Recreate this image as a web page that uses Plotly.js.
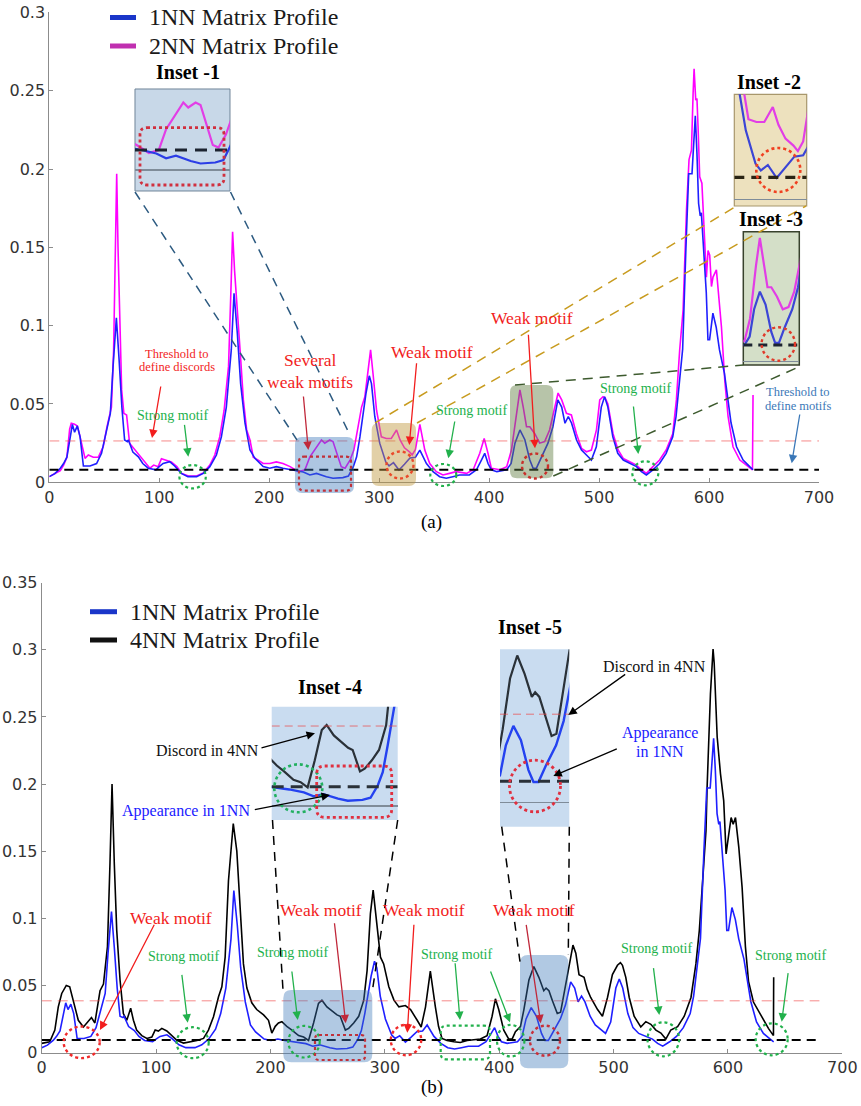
<!DOCTYPE html>
<html><head><meta charset="utf-8">
<script src="https://cdn.plot.ly/plotly-3.0.1.min.js"></script>
<style>html,body{margin:0;padding:0;background:#fff}#chart{width:861px;height:1106px}</style>
</head><body><div id="chart"></div>
<script>
// ---------------- DATA ----------------
const t1nn = [0,5,10,13,16,19,21,23,25.5,28,30,31,37,43,47.5,52,55.5,58,61,63.5,66,68.5,71,72,74,76,81,85,90,97,100,103.5,109.5,114,120,126,134,140,146,152,156.5,161,165.5,168,171,174,178,182.5,187,194.5,200.5,206.5,212.5,222,231,237,243,252,258,267,272,276.5,279.5,282.5,285.5,288,291,293,296,300.5,306,309,313,318,323,328,333,337,343,349,355,361,367,373,382,388.5,393,396,399,402,407,416,420,423.5,428,432.5,437,440,443,447.5,453.5,458,462.5,466,469,472,475,479.5,484,488.5,493,497.5,502,505,508,512.5,517,522,528,534,538.5,543,549,555,561,567,570,573,576,579,581.5,584.5,587.5,589,590.5,592,593,594.5,597.5,599,600.5,603.5,606.5,609.5,614,616,620,625,631,637,640];
const mp1nn = [0.0036,0.0055,0.009,0.012,0.016,0.028,0.037,0.032,0.036,0.029,0.016,0.0104,0.0104,0.012,0.0185,0.0334,0.044,0.074,0.105,0.078,0.048,0.027,0.026,0.027,0.0227,0.0193,0.0163,0.012,0.009,0.008,0.010,0.012,0.0132,0.0104,0.0057,0.0036,0.0036,0.0057,0.010,0.0174,0.029,0.048,0.0845,0.1207,0.095,0.063,0.0377,0.0206,0.0153,0.010,0.009,0.010,0.009,0.008,0.0066,0.0047,0.0057,0.0036,0.0026,0.003,0.004,0.010,0.0163,0.029,0.044,0.0568,0.068,0.063,0.042,0.025,0.013,0.0105,0.0125,0.0078,0.0115,0.0155,0.016,0.0205,0.012,0.0068,0.0036,0.0026,0.0036,0.0047,0.0047,0.008,0.0142,0.0185,0.012,0.008,0.0068,0.008,0.012,0.025,0.0334,0.0272,0.0142,0.009,0.009,0.0163,0.025,0.0355,0.0526,0.048,0.0377,0.042,0.0377,0.027,0.0206,0.0174,0.0142,0.0227,0.048,0.0547,0.048,0.029,0.0185,0.0142,0.012,0.010,0.0068,0.0047,0.008,0.012,0.0185,0.029,0.042,0.063,0.085,0.15,0.197,0.197,0.234,0.21,0.178,0.170,0.172,0.155,0.121,0.091,0.091,0.108,0.099,0.0845,0.0696,0.059,0.038,0.0227,0.0142,0.010,0.008];

const t2nn = [0,5,10,13,16,18.5,20,23,25.5,28,30.5,32.5,35.5,40,44.5,49,52.5,56.5,58.5,60,61.3,62.5,63.8,65.8,67.8,70.3,73,78,82.5,87,91.5,95,99,102,106.5,111,116,120.5,126.5,134,140,146,150.5,155,159,163,165.5,166.7,168.5,171,173.5,176.5,179.5,182.5,185.5,190,194.5,200.5,206.5,212.5,219,226.5,232.5,237,243,247.5,250.5,255,258,262.5,265.5,269,273.5,277,281,284,287,290,292.2,294.6,297.6,302,306.5,311,315.8,319,323,327.5,330,333,337,341.5,346,352,358,364,370,379.5,385.5,391.5,395.5,399,402,410,416,420.3,425,428,431,434,437,441.5,446,450.5,455,459.7,462.7,466,470.3,474.8,479.4,484,488.5,493,497.6,500.6,503.6,505.5,508,512.7,517.3,522,528,534,538.5,543,549,555,561,567,570.3,573.3,576.4,579.5,581.8,584,585.5,586.4,587.9,589,590,591.5,593.5,595.5,597.6,599.1,600.6,602.2,603.6,606.7,608.8,611.3,614.3,617.3,621.8,628,634,639.5,640];
const mp2nn = [0.0036,0.0055,0.0075,0.011,0.016,0.034,0.0377,0.037,0.036,0.029,0.02,0.0153,0.0174,0.016,0.016,0.0227,0.0355,0.048,0.0845,0.15,0.197,0.15,0.106,0.059,0.044,0.043,0.025,0.0206,0.0174,0.0132,0.009,0.011,0.010,0.015,0.0138,0.013,0.010,0.0057,0.004,0.004,0.006,0.011,0.0174,0.029,0.046,0.074,0.13,0.16,0.135,0.106,0.0845,0.0526,0.0334,0.027,0.016,0.0142,0.012,0.012,0.013,0.012,0.010,0.0068,0.008,0.0163,0.0227,0.027,0.025,0.027,0.026,0.0163,0.010,0.009,0.0142,0.0206,0.0355,0.048,0.0547,0.074,0.0845,0.068,0.046,0.029,0.028,0.028,0.0334,0.027,0.022,0.0195,0.0175,0.021,0.037,0.0206,0.012,0.0068,0.0047,0.0057,0.0068,0.0057,0.008,0.0185,0.028,0.0185,0.009,0.008,0.010,0.0206,0.046,0.059,0.048,0.0355,0.0355,0.031,0.025,0.026,0.0334,0.048,0.057,0.0526,0.044,0.043,0.031,0.0217,0.0195,0.0206,0.0334,0.0526,0.0547,0.054,0.05,0.031,0.0206,0.0153,0.013,0.011,0.008,0.0057,0.010,0.0142,0.0206,0.031,0.0526,0.0845,0.11,0.174,0.206,0.212,0.248,0.264,0.244,0.245,0.227,0.195,0.191,0.163,0.131,0.148,0.145,0.125,0.131,0.1356,0.1207,0.099,0.065,0.042,0.0227,0.0142,0.011,0.008,0.0557];

const t4nn = [0,7,11.5,14.5,17.5,21.5,24.5,27.5,32,36.5,41,43.5,46.5,51,54,57.5,59.7,61.5,63.5,65.6,68.5,71.4,74.4,77.8,80.2,83,87.5,92,96.3,99.2,102,105,109.4,113.8,118.2,124,130,135.7,141.5,145.8,150.2,154.6,157.5,160.4,163.3,166.3,167.5,170.6,173.5,176.4,179.4,183.7,188,194,198.3,201.2,204.2,207,210,214.3,218.8,224.6,229,233.3,237.7,242,245,249.4,253.8,258.2,261,265.5,268.4,272.8,277.2,281.6,284.5,287.4,289.8,292.7,296.2,299,303.5,308,312.3,318,322.5,328.3,331.8,335.6,339.8,344.2,347,350,354.4,360.3,366,372,378,383.6,389.4,393.8,396.7,399.6,404,408.4,411.3,414.2,418.6,421.6,426,430.3,434.7,439,441,443.5,446.4,450.8,453.7,458,462.5,464.5,467,469.8,474.2,477,480,486,490.3,494.7,499,503.4,506,507.8,510.7,513.7,518,523.8,528.2,532.6,537,541.4,545.7,550,556,561.8,567.7,572,575,577.9,580.8,581.8,584.7,587,588,590.6,593.5,596.3,598.4,600.8,602.8,604.6,606.6,609.5,612.4,615.3,618,622.3,626.7,631,635.4,639.8,640];
const mp4nn = [0.0068,0.008,0.0167,0.034,0.044,0.050,0.049,0.039,0.024,0.019,0.023,0.026,0.022,0.046,0.051,0.079,0.141,0.200,0.14,0.091,0.054,0.029,0.024,0.033,0.024,0.0167,0.0126,0.0105,0.0115,0.0167,0.016,0.018,0.016,0.0126,0.009,0.007,0.008,0.009,0.0105,0.0167,0.0266,0.0415,0.049,0.071,0.128,0.16,0.1706,0.15,0.103,0.066,0.048,0.037,0.032,0.028,0.024,0.0145,0.0195,0.022,0.023,0.0195,0.0167,0.0126,0.0115,0.009,0.022,0.0366,0.039,0.034,0.031,0.028,0.027,0.0167,0.018,0.022,0.027,0.039,0.061,0.1035,0.121,0.1,0.071,0.066,0.049,0.039,0.034,0.035,0.032,0.024,0.019,0.034,0.0606,0.034,0.0193,0.0105,0.009,0.008,0.0075,0.009,0.0095,0.010,0.0126,0.027,0.040,0.032,0.0167,0.010,0.010,0.0155,0.0193,0.032,0.054,0.064,0.056,0.046,0.048,0.046,0.039,0.029,0.030,0.049,0.071,0.080,0.074,0.058,0.056,0.047,0.041,0.032,0.027,0.041,0.058,0.065,0.067,0.065,0.056,0.041,0.027,0.019,0.023,0.021,0.0167,0.0145,0.010,0.0167,0.0193,0.027,0.041,0.066,0.091,0.128,0.165,0.1976,0.267,0.3005,0.29,0.235,0.2076,0.1877,0.148,0.163,0.175,0.17,0.175,0.153,0.123,0.0787,0.053,0.0376,0.031,0.0243,0.018,0.0126,0.056];

const xTicksTop = [0,100,200,300,400,500,600,700];
const motifThrTop = 0.008, discordThrTop = 0.0264;
const motifThrBot = 0.0093, discordThrBot = 0.0385;

// ---------------- HELPERS ----------------
const W = 861, H = 1106;
const X = v => v / W, Y = v => 1 - v / H;
function rrect(x0, y0, x1, y1, r) {
  const a = v => (v / W).toFixed(5), b = v => (1 - v / H).toFixed(5);
  return `M${a(x0+r)},${b(y0)} L${a(x1-r)},${b(y0)} Q${a(x1)},${b(y0)} ${a(x1)},${b(y0+r)} ` +
         `L${a(x1)},${b(y1-r)} Q${a(x1)},${b(y1)} ${a(x1-r)},${b(y1)} L${a(x0+r)},${b(y1)} ` +
         `Q${a(x0)},${b(y1)} ${a(x0)},${b(y1-r)} L${a(x0)},${b(y0+r)} Q${a(x0)},${b(y0)} ${a(x0+r)},${b(y0)} Z`;
}
const shapes = [];
const ann = [];
function rect(x0,y0,x1,y1,r,fill,lc,lw,dash,layer){
  shapes.push({type:'path', xref:'paper', yref:'paper', path:rrect(x0,y0,x1,y1,r),
    fillcolor: fill || 'rgba(0,0,0,0)', line:{color: lc || 'rgba(0,0,0,0)', width: lw || 0, dash: dash || 'solid'}, layer: layer || 'above'});
}
function circ(cx,cy,rx,ry,color,lw){
  shapes.push({type:'circle', xref:'paper', yref:'paper', x0:X(cx-rx), x1:X(cx+rx), y0:Y(cy+ry), y1:Y(cy-ry),
    line:{color:color, width:lw||2.2, dash:'dot'}, layer:'above'});
}
function seg(x0,y0,x1,y1,color,lw,dash){
  shapes.push({type:'line', xref:'paper', yref:'paper', x0:X(x0), y0:Y(y0), x1:X(x1), y1:Y(y1),
    line:{color:color, width:lw, dash:dash||'solid'}, layer:'above'});
}
function hline(xr, yr, x0, x1, yv, color, lw, dash){
  shapes.push({type:'line', xref:xr, yref:yr, x0:x0, x1:x1, y0:yv, y1:yv, line:{color:color, width:lw, dash:dash}, layer:'above'});
}
function txt(s, cx, cy, size, color, anchor){
  ann.push({text:s, x:X(cx), y:Y(cy), xref:'paper', yref:'paper', showarrow:false, xanchor:anchor||'center', yanchor:'middle',
    font:{family:'Liberation Serif, Times New Roman, serif', size:size, color:color}});
}
function arrow(tx, ty, hx, hy, color){
  ann.push({text:'', x:X(hx), y:Y(hy), xref:'paper', yref:'paper', ax:tx-hx, ay:ty-hy, axref:'pixel', ayref:'pixel',
    showarrow:true, arrowhead:2, arrowsize:1.3, arrowwidth:1.3, arrowcolor:color, standoff:0, startstandoff:0});
}

// ---------------- AXES ----------------
const mainAx = {showgrid:false, zeroline:false, showline:true, linecolor:'#8c8c8c', linewidth:1,
  ticks:'inside', ticklen:4, tickcolor:'#8c8c8c', tickfont:{family:'DejaVu Sans', size:16, color:'#333'}, fixedrange:true};
function insetAx(dom, rng, anchor, zl){
  return {domain:dom, range:rng, anchor:anchor, showgrid:false, showline:false, ticks:'', showticklabels:false,
    zeroline:!!zl, zerolinecolor:'#7f8c99', zerolinewidth:1.2, fixedrange:true};
}
const layout = {
  width:W, height:H, margin:{l:0,r:0,t:0,b:0}, paper_bgcolor:'#fff', plot_bgcolor:'rgba(0,0,0,0)', showlegend:false,
  xaxis: Object.assign({}, mainAx, {domain:[49.3/W, 819/W], range:[0,700], tickvals:xTicksTop, anchor:'y'}),
  yaxis: Object.assign({}, mainAx, {domain:[Y(482.3), Y(12.4)], range:[0,0.3], dtick:0.05, tick0:0, anchor:'x'}),
  xaxis2: Object.assign({}, mainAx, {domain:[41.7/W, 842.3/W], range:[0,700], tickvals:xTicksTop, anchor:'y2'}),
  yaxis2: Object.assign({}, mainAx, {domain:[Y(1052.5), Y(582.7)], range:[0,0.35], dtick:0.05, tick0:0, anchor:'x2'}),
  xaxis3: insetAx([135/W, 230/W], [218,276], 'y3'),
  yaxis3: insetAx([Y(191), Y(89)], [-0.0084,0.0324], 'x3', true),
  xaxis4: insetAx([734.3/W, 806.7/W], [294,335], 'y4'),
  yaxis4: insetAx([Y(206), Y(94.3)], [-0.0023,0.038], 'x4', true),
  xaxis5: insetAx([743.3/W, 799.3/W], [415,459], 'y5'),
  yaxis5: insetAx([Y(365), Y(231.7)], [-0.0016,0.062], 'x5', true),
  xaxis6: insetAx([271.7/W, 397.7/W], [211.2,288.7], 'y6'),
  yaxis6: insetAx([Y(820), Y(706.7)], [-0.0067,0.0478], 'x6', true),
  xaxis7: insetAx([500/W, 569.3/W], [420,461.4], 'y7'),
  yaxis7: insetAx([Y(826.7), Y(649.3)], [-0.0104,0.0667], 'x7', true),
  shapes: shapes, annotations: ann
};

// ---------------- TRACES ----------------
const BLUE='#1f1fff', MAG='#ff00ff', BLK='#000000';
function tr(x,y,xa,ya,c,w){ return {x:x, y:y, xaxis:xa, yaxis:ya, mode:'lines', line:{color:c, width:w}, hoverinfo:'skip'}; }
const data = [
  tr(t2nn, mp2nn, 'x', 'y', MAG, 1.6),
  tr(t1nn, mp1nn, 'x', 'y', BLUE, 1.6),
  tr(t4nn, mp4nn, 'x2', 'y2', BLK, 1.6),
  tr(t1nn, mp1nn, 'x2', 'y2', BLUE, 1.6),
  tr(t2nn, mp2nn, 'x3', 'y3', '#e23ee6', 2.2),
  tr(t1nn, mp1nn, 'x3', 'y3', '#2b3de6', 2.2),
  tr(t2nn, mp2nn, 'x4', 'y4', '#e23ee6', 2.2),
  tr(t1nn, mp1nn, 'x4', 'y4', '#3b45d6', 2.2),
  tr(t2nn, mp2nn, 'x5', 'y5', '#e23ee6', 2.2),
  tr(t1nn, mp1nn, 'x5', 'y5', '#3b45d6', 2.2),
  tr(t4nn, mp4nn, 'x6', 'y6', '#2a3138', 2.2),
  tr(t1nn, mp1nn, 'x6', 'y6', '#2442f0', 2.4),
  tr(t4nn, mp4nn, 'x7', 'y7', '#2a3138', 2.2),
  tr(t1nn, mp1nn, 'x7', 'y7', '#2442f0', 2.4)
];

// ---------------- SHAPES: TOP ----------------
// inset backgrounds (below traces)
rect(135,89,230,191,0,'#c8d8e8','#6f8499',1,'solid','below');
rect(734.3,94.3,806.7,206,0,'#ede1be','#a8976c',1.2,'solid','below');
rect(743.3,231.7,799.3,365,0,'#d4dfc8','#38422d',1.5,'solid','below');
rect(271.7,706.7,397.7,820,0,'#c9dcf0',null,0,'solid','below');
rect(500,649.3,569.3,826.7,0,'#c9dcf0',null,0,'solid','below');

// thresholds (main)
hline('x','y',0,700,discordThrTop,'rgba(240,60,60,0.6)',1,'10px,6px');
hline('x','y',0,700,motifThrTop,'#000',2.2,'9px,6px');
hline('x2','y2',0,680,discordThrBot,'rgba(240,60,60,0.6)',1,'10px,6px');
hline('x2','y2',0,680,motifThrBot,'#000',2.2,'9px,6px');
// thresholds (insets)
hline('x3','y3',218,276,motifThrTop,'#1c2430',3,'12px,8px');
hline('x4','y4',294,335,motifThrTop,'#2a2414',3.2,'10px,7px');
hline('x5','y5',415,459,motifThrTop,'#1c2430',3,'9px,6px');
hline('x6','y6',211.2,288.7,discordThrBot,'rgba(235,70,70,0.7)',1,'8px,5px');
hline('x6','y6',211.2,288.7,motifThrBot,'#2a3138',3,'12px,7px');
hline('x7','y7',420,461.4,discordThrBot,'rgba(235,70,70,0.7)',1,'8px,5px');
hline('x7','y7',420,461.4,motifThrBot,'#2a3138',3,'12px,7px');

// highlighted regions on main chart
rect(295,437,354,493,7,'rgba(60,120,185,0.42)');
rect(299,456.7,351,490.7,5,null,'#c0303a',2.2,'dot');
rect(371.7,423,416,486,7,'rgba(190,150,60,0.45)');
circ(400,465,13.5,13.5,'#ea4a2a',2.4);
rect(510,385,553.3,478.3,7,'rgba(95,125,65,0.45)');
circ(535,466,13,12.5,'#c8302a',2.4);
circ(192.6,476.7,13.2,11.7,'#22b14c',2.2);
circ(443.3,475,13,11,'#22b14c',2.2);
circ(645.3,473.3,13,12,'#22b14c',2.2);
// inset decorations
rect(140,127.7,224,185,7,null,'#d0303f',2.8,'dot');
circ(778.3,170,22,22,'#f04020',2.6);
circ(778.3,344,16.7,16.7,'#e03a2a',2.4);
// connectors
seg(135,192,297,440,'#2c5a80',1.5,'9px,7px');
seg(230.5,192,350,435,'#2c5a80',1.5,'9px,7px');
seg(375,423,735,207,'#c89b1e',1.5,'10px,7px');
seg(417,423,806,206,'#c89b1e',1.5,'10px,7px');
seg(515,385,743.3,365,'#3d5a2e',1.5,'10px,7px');
seg(553.3,476,799.3,366.7,'#3d5a2e',1.5,'10px,7px');

// ---------------- SHAPES: BOTTOM ----------------
rect(283.3,990,372.3,1062.3,8,'rgba(60,120,185,0.40)');
rect(520,955,568.3,1068.3,8,'rgba(60,120,185,0.40)');
seg(272.5,820,283,990,'#000',1.5,'9px,7px');
seg(397.7,820,372.5,990,'#000',1.5,'9px,7px');
seg(501.7,826.7,520,961.7,'#000',1.5,'9px,7px');
seg(569.3,826.7,568.3,955,'#000',1.5,'9px,7px');
circ(192.7,1042.7,16,15.5,'#22b14c',2.2);
circ(304,1041.7,15.7,15.8,'#22b14c',2.2);
circ(510.7,1040.7,13.7,15.8,'#22b14c',2.2);
circ(663.3,1039.3,15.8,17,'#22b14c',2.2);
circ(771.7,1039.3,16,16,'#22b14c',2.2);
rect(440.7,1025.7,490,1059.3,6,null,'#22b14c',2.2,'dot');
circ(81.7,1042.3,18,15.8,'#f02a2a',2.4);
circ(406,1040,15.2,15.2,'#f02a2a',2.4);
circ(545,1040.7,15,15,'#c8303a',2.4);
rect(315,1035,365,1060,4,null,'#c0303a',2.2,'dot');
circ(298.3,788.3,24,24,'#22b060',2.6);
rect(316.7,766,391.7,817.3,8,null,'#e03040',2.8,'dot');
circ(535,786,25.5,25.8,'#e03040',2.8);

// ---------------- TEXT ----------------
const SERIF = 'Liberation Serif, Times New Roman, serif';
// legends
seg(110,17.5,136,17.5,'#1a36c9',5);
seg(110,46,136,46,'#c030b0',5);
txt('1NN Matrix Profile',147,17.5,24,'#1a1a1a','left');
txt('2NN Matrix Profile',147,46,24,'#1a1a1a','left');
seg(90,611.7,117,611.7,'#1a36c9',5);
seg(90,640,117,640,'#111',5);
txt('1NN Matrix Profile',127.7,611.7,24,'#1a1a1a','left');
txt('4NN Matrix Profile',127.7,640,24,'#1a1a1a','left');

// inset titles
txt('<b>Inset -1</b>',188,72,20,'#000');
txt('<b>Inset -2</b>',769,82,20,'#000');
txt('<b>Inset -3</b>',771,219,20,'#000');
txt('<b>Inset -4</b>',330.3,686.7,20,'#000');
txt('<b>Inset -5</b>',530.3,626.7,20,'#000');

const RED='#f21d1d', DRED='#c0283a', GRN='#22b14c', TBLUE='#3b78b8';
// top annotations
txt('Threshold to',177,354,12.5,RED);
txt('define discords',177,367.3,12.5,RED);
arrow(161,385,152,438,RED);
txt('Strong motif',173.3,415,14,GRN);
arrow(184.3,423.3,188.3,456.7,GRN);
txt('Several',310,360,17.5,RED);
txt('weak motifs',310,381.7,17.5,RED);
arrow(303.3,395,308.3,450,DRED);
txt('Weak motif',432,351.7,17.5,RED);
arrow(416.7,361.7,409.3,445,RED);
txt('Weak motif',532.3,318.3,17.5,RED);
arrow(528.3,333.3,535,448.3,RED);
txt('Strong motif',471.7,410,14,GRN);
arrow(455,420,448.3,458.3,GRN);
txt('Strong motif',635.8,389,14,GRN);
arrow(633.3,405,638.3,454,GRN);
txt('Threshold to',798,391.7,12.5,TBLUE);
txt('define motifs',798,406,12.5,TBLUE);
arrow(800,413,791.7,463.3,TBLUE);
txt('(a)',431.7,521.7,19,'#000');

// bottom annotations
txt('Discord in 4NN',207.3,750.7,16,'#111');
arrow(260,748.3,315,733.3,'#000');
txt('Appearance in 1NN',185.7,810.7,16,'#1a1aff');
arrow(253.3,810,330,795,'#000');
txt('Discord in 4NN',654,666.7,16,'#111');
arrow(626.7,673.3,568.3,715,'#000');
txt('Appearance',660,733.3,16,'#1a1aff');
txt('in 1NN',660,751.7,16,'#1a1aff');
arrow(618.3,748.3,553.3,776,'#000');
txt('Weak motif',171.3,918.3,17.5,RED);
arrow(155,923.3,100,1030,RED);
txt('Strong motif',183.8,956.7,14,GRN);
arrow(181.7,973.3,187.7,1022.7,GRN);
txt('Strong motif',293.3,952.7,14,GRN);
arrow(291.7,970,297.7,1020,GRN);
txt('Weak motif',320.5,910,17.5,RED);
arrow(334.3,921.7,345.7,1023.3,DRED);
txt('Weak motif',424,910,17.5,RED);
arrow(414,923.3,407.3,1032.7,RED);
txt('Strong motif',457.2,954.3,14,GRN);
arrow(455,961.7,460,1020,GRN);
arrow(490,970,510,1022.3,GRN);
txt('Weak motif',533.8,910,17.5,RED);
arrow(526,923.3,540.7,1023.3,DRED);
txt('Strong motif',656.7,948.3,14,GRN);
arrow(653.3,966.7,659.3,1015,GRN);
txt('Strong motif',790.5,955,14,GRN);
arrow(788.3,971.7,781.7,1021.7,GRN);
txt('(b)',431.7,1086.7,19,'#000');

Plotly.newPlot('chart', data, layout, {staticPlot:true, displayModeBar:false});
</script></body></html>
